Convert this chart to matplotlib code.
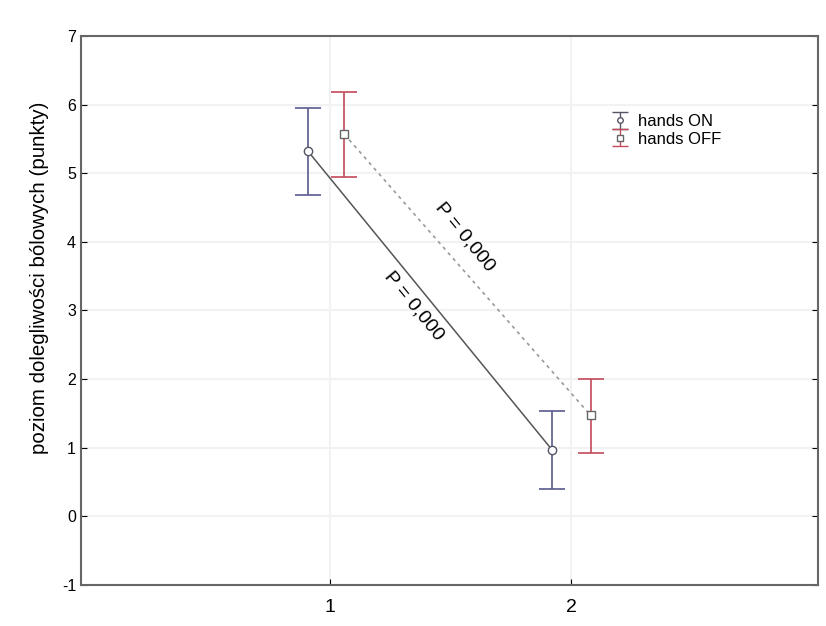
import numpy as np
import matplotlib.pyplot as plt

plt.rcParams['font.family'] = ['Liberation Sans', 'DejaVu Sans']
plt.rcParams['axes.unicode_minus'] = False

# pomiary (średnia i przedział)
x_on = [0.91, 1.92]
y_on = [5.32, 0.97]
lo_on = [4.68, 0.40]
hi_on = [5.95, 1.53]

x_off = [1.06, 2.08]
y_off = [5.57, 1.47]
lo_off = [4.95, 0.92]
hi_off = [6.18, 2.00]

labels = ["hands ON", "hands OFF"]
p_text = ["P = 0,000", "P = 0,000"]

c_on = "#5a5a90"
c_off = "#c24a5a"

fig = plt.figure(figsize=(8.26, 6.26), dpi=100)
ax = fig.add_axes([0.098, 0.0655, 0.892, 0.877])

y_on = np.array(y_on)
y_off = np.array(y_off)
err_on = [y_on - np.array(lo_on), np.array(hi_on) - y_on]
err_off = [y_off - np.array(lo_off), np.array(hi_off) - y_off]

# linie łączące
ax.plot(x_on, y_on, color="#555555", lw=1.1, zorder=2)
ax.plot(x_off, y_off, color="#999999", lw=1.2, ls=(0, (2, 2.5)), zorder=2)

ax.errorbar(x_on, y_on, yerr=err_on, fmt='o', color=c_on, mfc='white', mec="#555566",
            ms=6, capsize=9.5, elinewidth=1.2, capthick=1.2, zorder=3)
ax.errorbar(x_off, y_off, yerr=err_off, fmt='s', color=c_off, mfc='white', mec="#666666",
            ms=6, capsize=9.5, elinewidth=1.2, capthick=1.2, zorder=3)

# uchwyty legendy (mniejsze)
ax.errorbar([np.nan], [np.nan], yerr=[[0.1]], fmt='o', color="#555566", mfc='white',
            ms=4, capsize=6, elinewidth=1, capthick=1, label=labels[0])
ax.errorbar([np.nan], [np.nan], yerr=[[0.1]], fmt='s', color=c_off, mfc='white', mec="#666666",
            ms=4, capsize=6, elinewidth=1, capthick=1, label=labels[1])

# napisy P
ang = -50.7
ax.text(1.35, 3.07, p_text[0], rotation=ang, ha='center', va='center', fontsize=14)
ax.text(1.56, 4.07, p_text[1], rotation=ang, ha='center', va='center', fontsize=14)

ax.set_xlim(-0.03, 3.02)
ax.set_ylim(-1, 7)
ax.set_xticks([1, 2])
ax.set_yticks(range(-1, 8))
ax.tick_params(axis='x', labelsize=14, direction='in', length=4, pad=10, top=False)
ax.tick_params(axis='y', labelsize=11.5, direction='in', length=4, right=True)
ax.set_ylabel("poziom dolegliwości bólowych (punkty)", fontsize=14.8, va='center')
ax.yaxis.set_label_coords(-0.056, 0.559)
ax.grid(True, color="#f2f2f2", lw=1.5)
for s in ax.spines.values():
    s.set_color("#666666")
    s.set_linewidth(1.5)

ax.legend(loc='upper left', bbox_to_anchor=(0.7, 0.885), frameon=False, fontsize=12,
          handlelength=1.0, handletextpad=0.6, labelspacing=0.15)

fig.savefig("out.png", dpi=100)
